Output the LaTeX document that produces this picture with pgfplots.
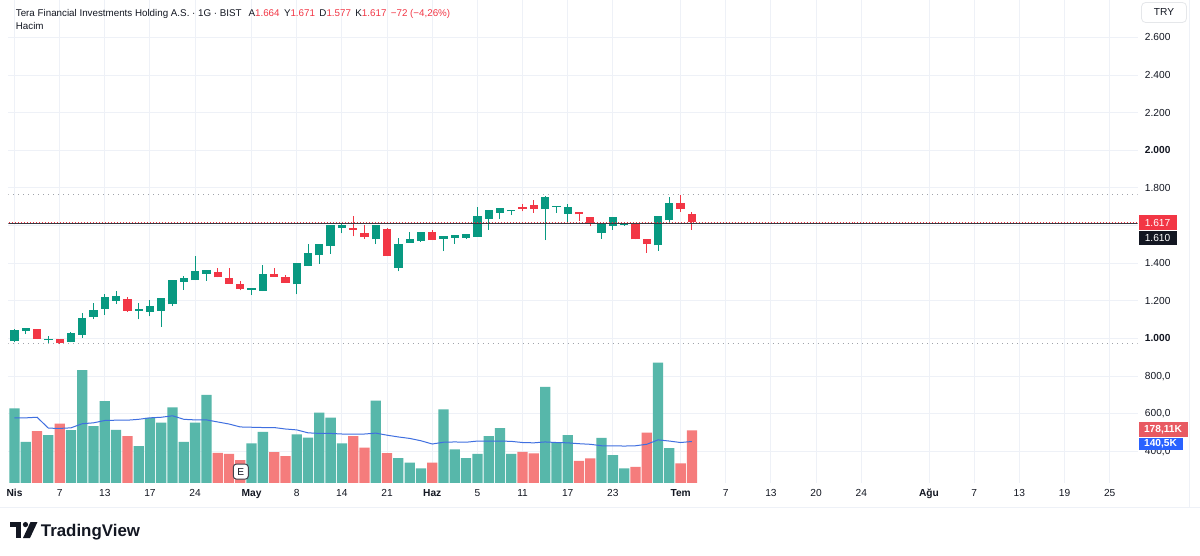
\documentclass[border=0pt]{standalone}
\usepackage{pgfplots}
\pgfplotsset{compat=1.18}
\usepackage{pgfplotstable}
\usepackage{fontspec}
\setmainfont{Liberation Sans}
\definecolor{tvdark}{HTML}{131722}
\definecolor{tvgray}{HTML}{787B86}
\definecolor{gridc}{HTML}{EEF1F7}
\definecolor{upc}{HTML}{089981}
\definecolor{dnc}{HTML}{F23645}
\definecolor{volup}{HTML}{57B7AA}
\definecolor{voldn}{HTML}{F57C7C}
\definecolor{mac}{HTML}{3F6FE0}
\definecolor{vlab}{HTML}{E85A62}
\definecolor{blab}{HTML}{2962FF}
\definecolor{hdrred}{HTML}{F23645}
\newcommand{\tvtick}{\fontsize{5.1pt}{6pt}\selectfont}
\newcommand{\tvhdr}{\fontsize{4.9pt}{5.8pt}\selectfont}

\pgfplotstableread{
i o h l c
0 986 1048 979 1044
1 1039 1055 1023 1053
3 991 1014 977 996
5 982 1035 979 1030
6 1021 1133 1003 1109
7 1115 1186 1102 1150
8 1159 1235 1127 1221
9 1200 1253 1182 1225
11 1147 1186 1102 1154
12 1143 1203 1118 1175
13 1147 1214 1062 1214
14 1181 1313 1172 1310
15 1301 1331 1260 1319
16 1310 1437 1310 1357
17 1345 1366 1306 1366
21 1258 1266 1230 1266
22 1251 1389 1251 1340
25 1287 1401 1234 1401
26 1384 1501 1384 1455
27 1442 1504 1398 1504
28 1490 1603 1451 1603
29 1589 1606 1558 1603
32 1526 1605 1501 1603
34 1377 1534 1357 1504
35 1508 1564 1508 1529
36 1517 1568 1513 1568
38 1529 1547 1464 1543
39 1534 1552 1504 1550
40 1536 1556 1531 1554
41 1540 1699 1540 1649
42 1635 1681 1579 1681
43 1667 1693 1635 1693
44 1676 1681 1655 1681
47 1687 1757 1522 1752
48 1701 1704 1667 1704
49 1662 1713 1616 1699
52 1561 1614 1531 1614
53 1598 1646 1579 1646
54 1602 1619 1598 1611
57 1495 1649 1465 1649
58 1628 1752 1614 1722
}\upcandles

\pgfplotstableread{
i o h l c
2 1048 1050 996 998
4 996 997 973 974
10 1209 1221 1141 1147
18 1354 1375 1325 1325
19 1319 1377 1292 1292
20 1288 1303 1256 1262
23 1341 1377 1327 1327
24 1327 1336 1297 1297
30 1586 1649 1543 1579
31 1561 1603 1529 1540
33 1582 1587 1437 1437
37 1566 1575 1522 1522
45 1696 1712 1676 1688
46 1709 1738 1667 1687
50 1671 1672 1624 1660
51 1646 1646 1596 1611
55 1611 1611 1526 1526
56 1526 1526 1455 1501
59 1722 1765 1672 1689
60 1664 1671 1577 1617
}\dncandles

\pgfplotstableread{
i v
0 253
1 139
3 162
5 179
6 383
7 193
8 278
9 180
11 125
12 221
13 205
14 257
15 139
16 205
17 299
21 134
22 173
25 165
26 154
27 239
28 222
29 134
32 280
34 84
35 69
36 49
38 250
39 114
40 84
41 98
42 159
43 186
44 98
47 326
48 137
49 162
52 153
53 94
54 49
57 409
58 118
}\volup

\pgfplotstableread{
i v
2 176
4 201
10 159
18 102
19 98
20 77
23 104
24 91
30 159
31 120
33 101
37 69
45 105
46 100
50 75
51 83
55 54
56 171
59 66
60 178.11
}\voldn

\pgfplotstableread{
i m
0 221
1 221
2 223
3 186
4 185
5 187
6 201
7 204
8 212
9 213
10 213
11 216
12 221
13 223
14 228
15 216
16 214
17 214
18 207
19 200
20 190
21 189
22 188
23 188
24 183
25 180
26 170
27 168
28 168
29 166
30 166
31 166
32 169
33 162
34 156
35 151
36 143
37 132
38 138
39 139
40 138
41 142
42 142
43 142
44 141
45 137
46 136
47 139
48 137
49 136
50 133
51 131
52 126
53 126
54 125
55 126
56 131
57 146
58 142
59 137
60 140.5
}\vma

\begin{document}
\begin{tikzpicture}
\begin{scope}[x=0.5pt,y=-0.5pt]
\path[use as bounding box, fill=white] (0,0) rectangle (1200,555);
\end{scope}

% ---------- price axis ----------
\begin{axis}[
  at={(4pt,-241.35pt)}, anchor=south west,
  scale only axis, width=565pt, height=241.35pt,
  xmin=-0.531, xmax=99.47, ymin=233, ymax=2796,
  axis line style={draw=none},
  tick style={draw=none},
  clip=true,
  xtick={0,4,8,12,16,21,25,29,33,37,41,45,49,53,59,63,67,71,75,81,85,89,93,97},
  xticklabels={\textbf{Nis},7,13,17,24,\textbf{May},8,14,21,\textbf{Haz},5,11,17,23,\textbf{Tem},7,13,20,24,\textbf{Ağu},7,13,19,25},
  ytick={400,600,800,1000,1200,1400,1600,1800,2000,2200,2400,2600},
  yticklabels={{400,0},{600,0},{800,0},\textbf{1.000},1.200,1.400,1.600,1.800,\textbf{2.000},2.200,2.400,2.600},
  yticklabel pos=right,
  xmajorgrids, ymajorgrids,
  grid style={draw=gridc, line width=0.5pt},
  ticklabel style={font=\tvtick, text=tvdark},
  xticklabel style={anchor=base, inner sep=0pt, yshift=-7.1pt},
  yticklabel style={anchor=west, inner sep=0pt, xshift=3.5pt},
]
% range high / low dotted lines
\addplot[draw=tvgray!70, line width=0.5pt, dotted] coordinates {(-1,1765) (100,1765)};
\addplot[draw=tvgray!70, line width=0.5pt, dotted] coordinates {(-1,973) (100,973)};
% wicks
\addplot[draw=none, mark=none, forget plot, error bars/.cd, y dir=plus, y explicit, error mark=none,
  error bar style={line width=0.5pt, draw=upc, solid}]
  table[x=i, y=l, y error expr=\thisrow{h}-\thisrow{l}] {\upcandles};
\addplot[draw=none, mark=none, forget plot, error bars/.cd, y dir=plus, y explicit, error mark=none,
  error bar style={line width=0.5pt, draw=dnc, solid}]
  table[x=i, y=l, y error expr=\thisrow{h}-\thisrow{l}] {\dncandles};
% bodies
\addplot[draw=none, mark=none, forget plot, error bars/.cd, y dir=plus, y explicit, error mark=none,
  error bar style={line width=4.15pt, draw=upc, solid}]
  table[x=i, y=o, y error expr=\thisrow{c}-\thisrow{o}] {\upcandles};
\addplot[draw=none, mark=none, forget plot, error bars/.cd, y dir=plus, y explicit, error mark=none,
  error bar style={line width=4.15pt, draw=dnc, solid}]
  table[x=i, y=c, y error expr=\thisrow{o}-\thisrow{c}] {\dncandles};
% price lines
\addplot[draw=tvdark!85, line width=0.5pt] coordinates {(-1,1610) (100,1610)};
\addplot[draw=dnc, line width=0.5pt, densely dotted] coordinates {(-1,1617) (100,1617)};
\end{axis}

% ---------- volume axis ----------
\begin{axis}[
  at={(4pt,-241.35pt)}, anchor=south west,
  scale only axis, width=565pt, height=241.35pt,
  xmin=-0.531, xmax=99.47, ymin=0, ymax=1641,
  hide axis,
]
\addplot[ybar, bar width=0.91, bar shift=0pt, fill=volup, draw=none] table[x=i, y=v] {\volup};
\addplot[ybar, bar width=0.91, bar shift=0pt, fill=voldn, draw=none] table[x=i, y=v] {\voldn};
\addplot[draw=mac, line width=0.5pt, mark=none] table[x=i, y=m] {\vma};
\end{axis}

% ---------- decorations in pixel units ----------
\begin{scope}[x=0.5pt,y=-0.5pt]
% header
\node[anchor=base west, inner sep=0pt, font=\tvhdr, text=tvdark] at (15,16)
 {Tera Financial Investments Holding A.S. · 1G · BIST\hspace{0.7em}A{\color{hdrred}1.664}\hspace{0.45em}Y{\color{hdrred}1.671}\hspace{0.45em}D{\color{hdrred}1.577}\hspace{0.45em}K{\color{hdrred}1.617}\hspace{0.45em}{\color{hdrred}−72 (−4,26\%)}};
\node[anchor=base west, inner sep=0pt, font=\tvhdr, text=tvdark] at (15,29.3) {Hacim};
% TRY box
\draw[draw=gridc!60!tvgray!40, line width=0.4pt, rounded corners=2pt, fill=white] (1142,2) rectangle (1187,22);
\node[font=\tvtick, text=tvdark] at (1164.5,12) {TRY};
% right price labels
\fill[dnc] (1139,214.5) rectangle (1177,230);
\node[font=\tvtick, text=white] at (1158,222.3) {1.617};
\fill[tvdark] (1139,230.5) rectangle (1177,244.5);
\node[font=\tvtick, text=white] at (1158,237.5) {1.610};
\fill[vlab] (1139,421.7) rectangle (1188,436.7);
\node[font=\tvtick\bfseries, text=white] at (1163.5,429.2) {178,11K};
\fill[blab] (1139,437.5) rectangle (1183,450);
\node[font=\tvtick\bfseries, text=white] at (1161,443.8) {140,5K};
% E marker
\draw[draw=tvdark!80, fill=white, line width=0.5pt, rounded corners=1.5pt] (233,464) rectangle (248,479);
\node[font=\tvtick, text=tvdark] at (240.5,471.5) {E};
% separators
\draw[draw=gridc, line width=0.5pt] (0,507) -- (1200,507);
\draw[draw=gridc, line width=0.5pt] (1190,0) -- (1190,507);
% TradingView logo
\fill[tvdark] (10,522) rectangle (21,527);
\fill[tvdark] (16,522) rectangle (21,538);
\fill[tvdark] (25,524.5) circle (2.6);
\fill[tvdark] (30,522) -- (37,522) -- (29.5,538) -- (22.5,538) -- cycle;
\node[anchor=base west, inner sep=0pt, font=\fontsize{8.45pt}{10pt}\selectfont\bfseries, text=tvdark] at (40,536) {TradingView};
\end{scope}
\end{tikzpicture}
\end{document}
